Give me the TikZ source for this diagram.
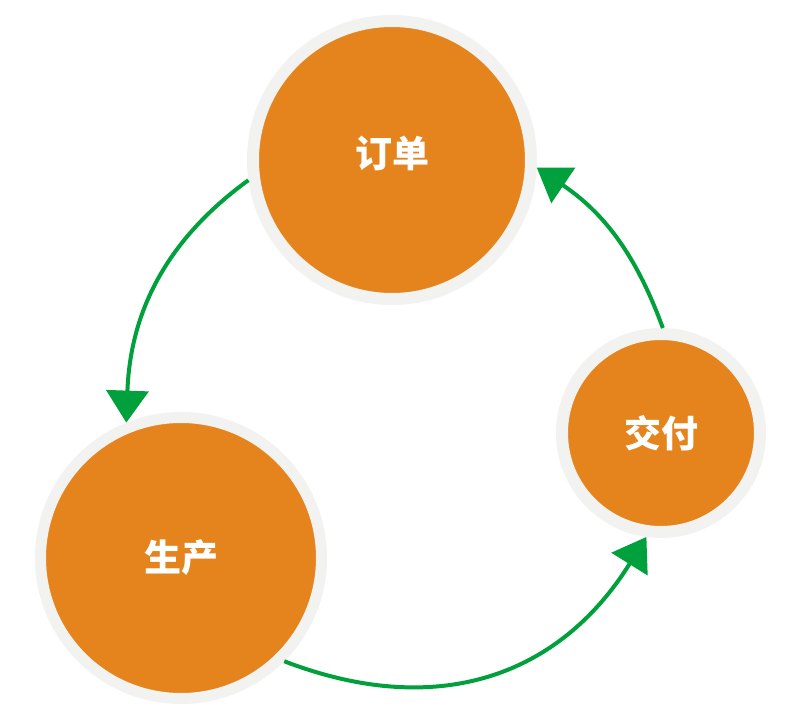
\documentclass[tikz,border=0pt]{standalone}
\usepackage{fontspec}
\newfontfamily\cjk{Noto Sans CJK SC}
\usetikzlibrary{arrows.meta}
\definecolor{orng}{HTML}{E5831D}
\definecolor{ring}{HTML}{F2F2F1}
\definecolor{grn}{HTML}{00A03C}
\tikzset{
  stage/.style={circle, fill=orng, draw=ring, line width=12pt, inner sep=0pt,
    text=white, font=\cjk\bfseries\fontsize{37}{40}\selectfont},
  arr/.style={draw=grn, line width=4pt, -{Triangle[length=32pt,width=42pt]}}
}
\begin{document}
\begin{tikzpicture}[x=1pt,y=1pt]
\useasboundingbox[fill=white] (0,0) rectangle (800,720);
\node[stage, minimum size=278pt] (dd) at (392,560) {\raisebox{16pt}{订单}};
\node[stage, minimum size=281pt, line width=11pt] (sc) at (181,162) {生产};
\node[stage, minimum size=198pt] (jf) at (661,287) {交付};
\draw[arr] (dd.188) to[out=216, in=88] (sc.112.5);
\draw[arr] (sc.-45) to[out=-21, in=238, looseness=1.1] (jf.262);
\draw[arr] (jf.89) to[out=110, in=326] (dd.-3);
\end{tikzpicture}
\end{document}
